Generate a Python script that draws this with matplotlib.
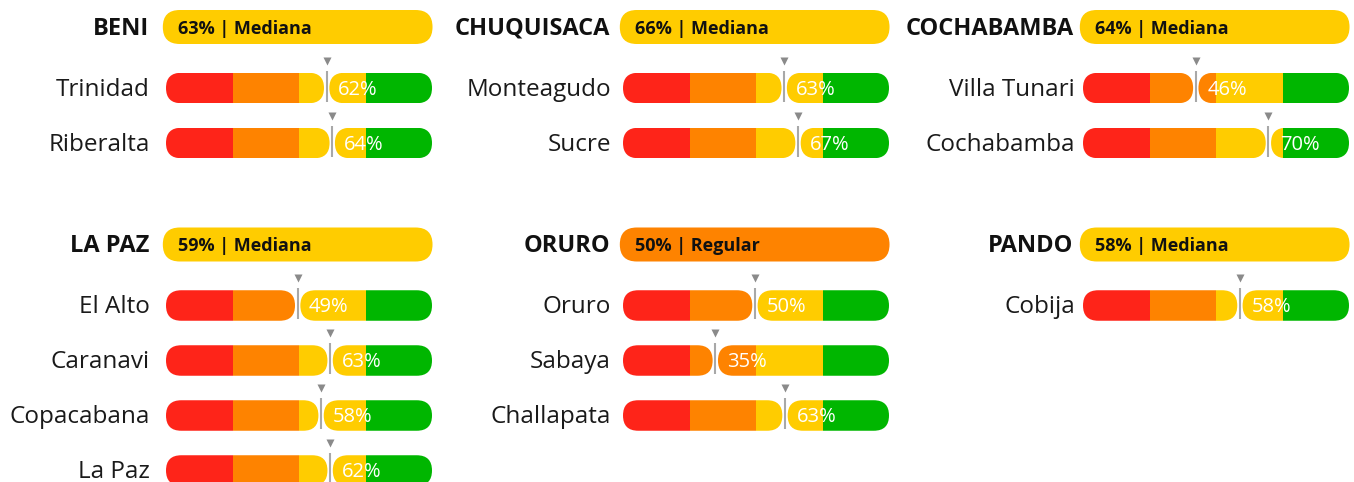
import matplotlib.pyplot as plt
from matplotlib.patches import FancyBboxPatch

plt.rcParams['font.family'] = ['Open Sans', 'DejaVu Sans']

# ---- data ------------------------------------------------------------------
deptos = ["BENI", "CHUQUISACA", "COCHABAMBA", "LA PAZ", "ORURO", "PANDO"]
depto_pct = [63, 66, 64, 59, 50, 58]
depto_nivel = ["Mediana", "Mediana", "Mediana", "Mediana", "Regular", "Mediana"]

municipios = [["Trinidad", "Riberalta"],
              ["Monteagudo", "Sucre"],
              ["Villa Tunari", "Cochabamba"],
              ["El Alto", "Caranavi", "Copacabana", "La Paz"],
              ["Oruro", "Sabaya", "Challapata"],
              ["Cobija"]]
# value printed in the bar
muni_pct = [[62, 64], [63, 67], [46, 70], [49, 63, 58, 62], [50, 35, 63], [58]]
# where the marker / split sits on the 0-100 scale
muni_pos = [[60.4, 62.5], [60.6, 65.8], [42.4, 69.7],
            [49.5, 61.7, 58.3, 61.7], [49.6, 34.7, 60.9], [59.0]]

bandas = [0, 25, 50, 75, 100]
colores = ["#fe2419", "#fe8300", "#ffcc00", "#00b600"]
nivel_color = {"Regular": "#fe8300", "Mediana": "#ffcc00"}

# ---- layout (pixels) -------------------------------------------------------
W, H = 1354, 482
bar_x0 = [166, 623, 1083]      # left edge of the bars per column
bar_w = 266
row0_y = [88, 305.5]           # centre of first bar per panel row
paso = 55                      # px between bars
lab_gap = [6.0, 4.5, 3.0]      # gap label -> bar, in % units
head_gap = [6.2, 4.8, 3.6]
px_x = bar_w / 100.0
px_y = paso
aspect = px_x / px_y

bar_h = 30.5 / paso
pill_h = 34 / paso
y_head = (27 - 88) / paso
gap = 1.0
dy = 0.035                     # nudge text down a little


def redondo(ax, x0, x1, y, h, **kw):
    r = min(h * px_y / 2, (x1 - x0) * px_x / 2) / px_x
    p = FancyBboxPatch((x0, y - h / 2), x1 - x0, h,
                       boxstyle="round,pad=0,rounding_size=%f" % r,
                       mutation_aspect=aspect, **kw)
    ax.add_patch(p)
    return p


fig = plt.figure(figsize=(W / 100, H / 100), dpi=100)

for i, depto in enumerate(deptos):
    col, fila = i % 3, i // 3
    top = row0_y[fila] - 1.6 * paso
    ax = fig.add_axes([bar_x0[col] / W, 1 - (top + 5.2 * paso) / H,
                       bar_w / W, 5.2 * paso / H])
    ax.set_xlim(0, 100)
    ax.set_ylim(3.6, -1.6)
    ax.axis("off")

    # header
    redondo(ax, -1.2, 100.2, y_head, pill_h, fc=nivel_color[depto_nivel[i]],
            ec="none", clip_on=False)
    ax.text(4.5, y_head + dy, "%d%% | %s" % (depto_pct[i], depto_nivel[i]),
            fontsize=13, fontweight="bold", color="#111111",
            va="center", ha="left")
    ax.text(-head_gap[col], y_head + dy, depto, fontsize=17,
            fontweight="bold", color="#111111", va="center", ha="right")

    for j, nombre in enumerate(municipios[i]):
        pos = muni_pos[i][j]
        partes = [(0, pos - gap), (pos + gap, 100)]
        for a, b in partes:
            clip = redondo(ax, a, b, j, bar_h, fc="none", ec="none")
            bars = ax.barh([j] * 4, [bandas[k + 1] - bandas[k] for k in range(4)],
                           left=bandas[:4], height=bar_h, color=colores,
                           linewidth=0)
            for r in bars:
                r.set_clip_path(clip)
        ax.vlines(pos, j - 0.31, j + 0.25, color="#a8a8a8", lw=1.5)
        ax.plot(pos, j - 0.5, marker="v", ms=6, color="#8a8a8a", mec="none")
        ax.text(pos + 4.3, j + dy, "%d%%" % muni_pct[i][j], color="white",
                fontsize=14.5, va="center", ha="left")
        ax.text(-lab_gap[col], j + dy, nombre, fontsize=17.5, color="#1a1a1a",
                va="center", ha="right")

fig.savefig("out.png", dpi=100)
